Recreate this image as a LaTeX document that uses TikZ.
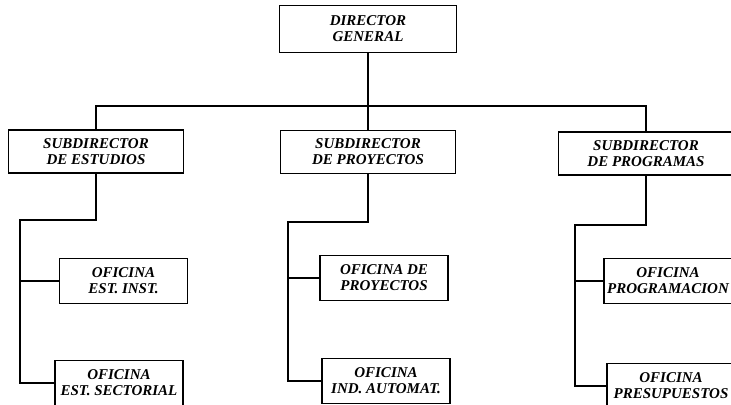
\documentclass[tikz,border=0pt]{standalone}
\usepackage{fontspec}
\setmainfont{Liberation Serif}
\usepackage{tikz}
\usetikzlibrary{positioning, calc}
\tikzset{
  unit/.style={rectangle, draw=black, line width=1.4pt, fill=white, align=center, font=\fontsize{12.8}{13.6}\selectfont\bfseries\itshape, inner sep=2pt},
  boss/.style={unit, minimum width=5.3cm, minimum height=1.42cm},
  sub/.style={unit, minimum width=5.25cm, minimum height=1.3cm},
  ofi/.style={unit, minimum width=3.84cm, minimum height=1.35cm},
  link/.style={line width=1.7pt, draw=black},
}

\begin{document}
\begin{tikzpicture}[x=0.03cm, y=-0.03cm]
  \useasboundingbox (0,0) rectangle (731,405);
  \node[boss] (dg) at (368,29) {DIRECTOR\\GENERAL};
  \node[sub] (se) at (96,151.5) {SUBDIRECTOR\\DE ESTUDIOS};
  \node[sub] (sp) at (368,152) {SUBDIRECTOR\\DE PROYECTOS};
  \node[sub] (sg) at (646,153.5) {SUBDIRECTOR\\DE PROGRAMAS};
  \node[ofi] (oe1) at (123.5,281) {OFICINA\\EST. INST.};
  \node[ofi] (oe2) at (119,383) {OFICINA\\EST. SECTORIAL};
  \node[ofi] (op1) at (384,278) {OFICINA DE\\PROYECTOS};
  \node[ofi] (op2) at (386,381) {OFICINA\\IND. AUTOMAT.};
  \node[ofi] (og1) at (668,281) {OFICINA\\PROGRAMACION};
  \node[ofi] (og2) at (671,386) {OFICINA\\PRESUPUESTOS};
  % bus under the director
  \coordinate (bus) at (0,106);
  \coordinate (ke) at (20,220);
  \coordinate (kp) at (288,222);
  \coordinate (kg) at (575,225);
  \draw[link] (dg.south) -- (dg.south |- bus);
  \draw[link] (se.north) |- (sp.north |- bus) -| (sg.north);
  \draw[link] (sp.north) -- (sp.north |- bus);
  % offices
  \draw[link] (se.south) |- (ke) |- (oe2.west);
  \draw[link] (ke |- oe1.west) -- (oe1.west);
  \draw[link] (sp.south) |- (kp) |- (op2.west);
  \draw[link] (kp |- op1.west) -- (op1.west);
  \draw[link] (sg.south) |- (kg) |- (og2.west);
  \draw[link] (kg |- og1.west) -- (og1.west);
\end{tikzpicture}
\end{document}
